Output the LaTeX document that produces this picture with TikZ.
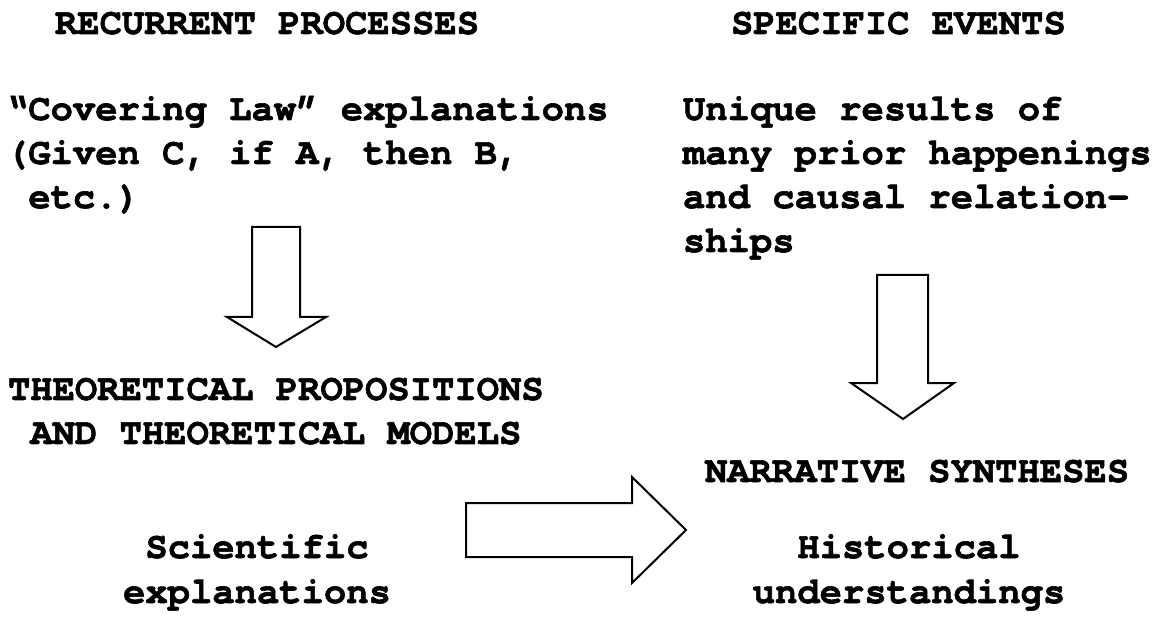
\documentclass[tikz,border=0pt]{standalone}
\usepackage{fontspec}
\setmonofont{texgyrecursor}[Extension=.otf,UprightFont=*-regular,BoldFont=*-bold,Ligatures=NoCommon,BoldFeatures={FakeBold=1.6}]
\begin{document}
\begin{tikzpicture}[x=0.5pt,y=-0.5pt,
  txt/.style={inner sep=0pt,outer sep=0pt,font=\ttfamily\bfseries\fontsize{18.6}{22.3}\selectfont},
  lft/.style={txt,anchor=base west,align=left},
  ctr/.style={txt,anchor=base,align=center},
  fatarrow/.style={draw=black,line width=1pt,fill=white,line join=miter}]
\useasboundingbox (0,0) rectangle (1157,636);
% headings
\node[lft] (rec) at (55,34) {RECURRENT PROCESSES};
\node[lft] (spec) at (731,34) {SPECIFIC EVENTS};
% left block
\node[lft] (cov1) at (6,120) {“Covering Law” explanations};
\node[lft] (cov2) at (6,164) {(Given C, if A, then B,};
\node[lft] (cov3) at (6,208) {\ etc.)};
% right block
\node[lft] (uni1) at (683,120) {Unique results of};
\node[lft] (uni2) at (683,164) {many prior happenings};
\node[lft] (uni3) at (683,208) {and causal relation-};
\node[lft] (uni4) at (683,252) {ships};
% theoretical
\node[lft] (the1) at (8,400) {THEORETICAL PROPOSITIONS};
\node[lft] (the2) at (8,444) {\ AND THEORETICAL MODELS};
% narrative
\node[lft] (nar) at (705,482) {NARRATIVE SYNTHESES};
% bottom
\node[ctr] (sci1) at (257,558) {Scienti{}fic};
\node[ctr] (sci2) at (257,603) {explanations};
\node[ctr] (his1) at (909,558) {Historical};
\node[ctr] (his2) at (909,603) {understandings};
% arrows
\draw[fatarrow] (252,227) -- (300,227) -- (300,317) -- (326,317) -- (276,347)
  -- (227,317) -- (252,317) -- cycle;
\draw[fatarrow] (877,275) -- (928,275) -- (928,383) -- (954,383) -- (903,419)
  -- (851,383) -- (877,383) -- cycle;
\draw[fatarrow] (466,503) -- (632,503) -- (632,477) -- (686,530) -- (632,583)
  -- (632,557) -- (466,557) -- cycle;
\end{tikzpicture}
\end{document}
